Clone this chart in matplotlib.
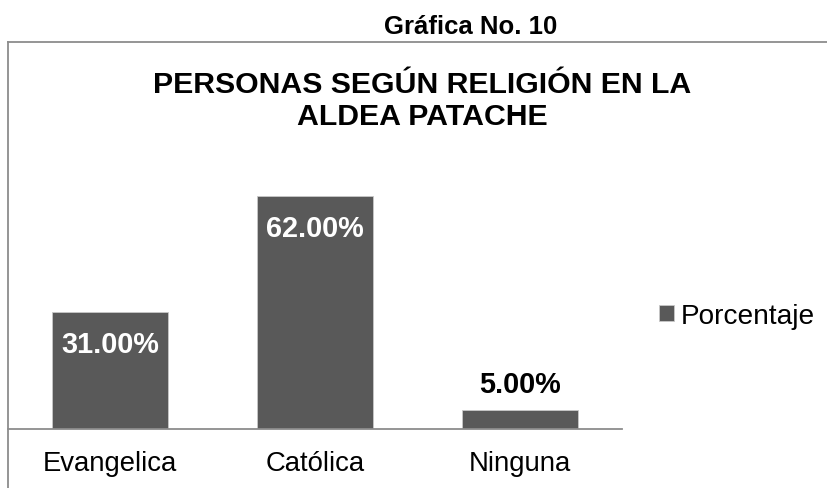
import matplotlib
matplotlib.use("Agg")
import matplotlib.pyplot as plt
from matplotlib.lines import Line2D

categories = ["Evangelica", "Católica", "Ninguna"]
porcentaje = [31.0, 62.0, 5.0]
series_name = "Porcentaje"
heading = "Gráfica No. 10"
title = "PERSONAS SEGÚN RELIGIÓN EN LA\nALDEA PATACHE"

plt.rcParams["font.family"] = ["Liberation Sans", "DejaVu Sans"]

W, H = 828, 489
fig = plt.figure(figsize=(W / 100, H / 100), dpi=100)

# plot area: x 8..622 px, baseline at y=430 px
ax = fig.add_axes([8 / W, 1 - 430 / H, 614 / W, 270 / H])
x = list(range(len(categories)))
bars = ax.bar(x, porcentaje, width=0.567, color="#595959",
              edgecolor="#c8c8c8", linewidth=0.6, label=series_name, zorder=2)
ax.set_xlim(-0.5, len(categories) - 0.5)
ax.set_ylim(0, 270 / 3.76)

for s in ["top", "right", "left"]:
    ax.spines[s].set_visible(False)
ax.spines["bottom"].set_color("#8c8c8c")
ax.spines["bottom"].set_linewidth(1.3)
ax.set_yticks([])
ax.set_xticks(x)
ax.set_xticklabels(categories, fontsize=19.8)
ax.tick_params(axis="x", length=0, pad=15)

for b, v in zip(bars, porcentaje):
    txt = f"{v:.2f}%"
    if v > 20:
        ax.annotate(txt, (b.get_x() + b.get_width() / 2, v), xytext=(0, -23),
                    textcoords="offset points", ha="center", va="center",
                    fontsize=20.8, fontweight="bold", color="white")
    else:
        ax.annotate(txt, (b.get_x() + b.get_width() / 2, v), xytext=(0, 19),
                    textcoords="offset points", ha="center", va="center",
                    fontsize=20.8, fontweight="bold", color="black")

ax.legend(loc="center left", bbox_to_anchor=(659 / W, 1 - 317 / H),
          bbox_transform=fig.transFigure, frameon=False, fontsize=20.2,
          handlelength=0.54, handleheight=0.54, handletextpad=0.25,
          borderpad=0, borderaxespad=0)

# chart border (left and top edges visible)
fig.add_artist(Line2D([8 / W, 8 / W], [0, 1 - 43 / H], color="#8c8c8c", lw=1.3,
                      transform=fig.transFigure))
fig.add_artist(Line2D([8 / W, 1], [1 - 43 / H, 1 - 43 / H], color="#8c8c8c", lw=1.3,
                      transform=fig.transFigure))

fig.text(471 / W, 1 - 27 / H, heading, ha="center", va="center",
         fontsize=18.5, fontweight="bold")
fig.text(422 / W, 1 - 101 / H, title, ha="center", va="center",
         fontsize=21.8, fontweight="bold", linespacing=1.2)

fig.savefig("out.png", dpi=100)
